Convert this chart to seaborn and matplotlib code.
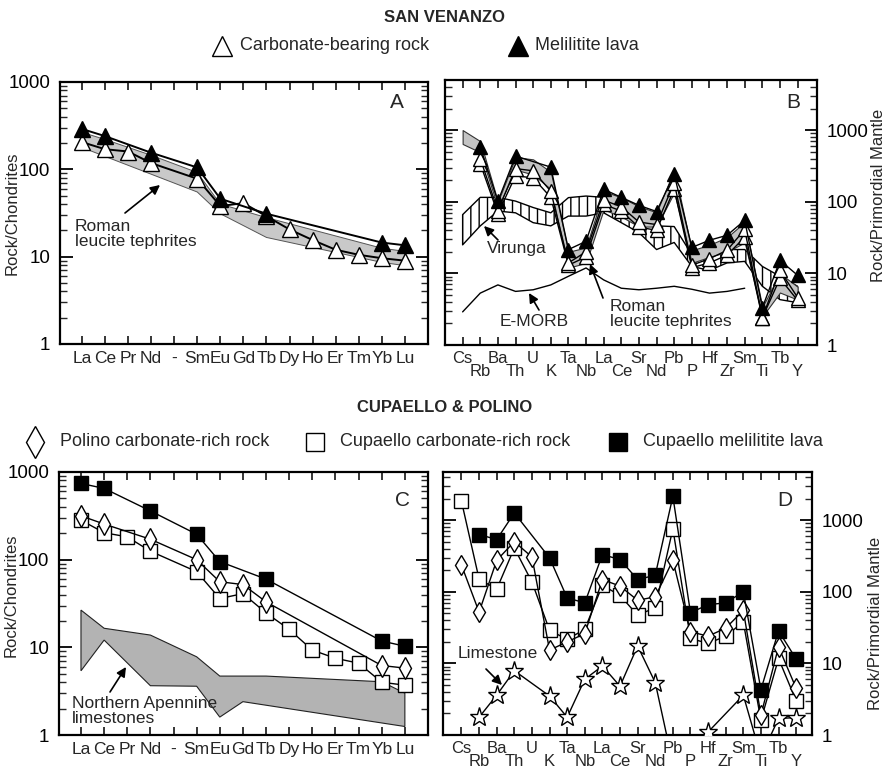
import numpy as np
import pandas as pd
import matplotlib
matplotlib.use("Agg")
import matplotlib.pyplot as plt
import seaborn as sns
from matplotlib.ticker import FixedLocator, NullFormatter, FixedFormatter

sns.set_theme(style="ticks")
plt.rcParams["font.family"] = ["Liberation Sans", "DejaVu Sans"]
plt.rcParams["hatch.linewidth"] = 1.0

# ---------------------------------------------------------------- categories
REE = ["La", "Ce", "Pr", "Nd", "-", "Sm", "Eu", "Gd", "Tb", "Dy", "Ho",
       "Er", "Tm", "Yb", "Lu"]
SPIDER = ["Cs", "Rb", "Ba", "Th", "U", "K", "Ta", "Nb", "La", "Ce", "Sr",
          "Nd", "Pb", "P", "Hf", "Zr", "Sm", "Ti", "Tb", "Y"]

# ---------------------------------------------------------------- San Venanzo, REE / chondrite
sv_lava_ree_el = ["La", "Ce", "Nd", "Sm", "Eu", "Tb", "Yb", "Lu"]
sv_lava_ree = [290, 240, 155, 105, 46, 31, 14.5, 13.5]
sv_carb_ree_el = ["La", "Ce", "Pr", "Nd", "Sm", "Eu", "Gd", "Tb", "Dy", "Ho",
                  "Er", "Tm", "Yb", "Lu"]
sv_carb_ree = [205, 170, 160, 118, 78, 38, 41, 29, 20.5, 15.5, 12, 10.5, 9.6, 9.0]
roman_ree_upper_el = ["La", "Ce", "Nd", "Sm", "Eu", "Tb", "Yb", "Lu"]
roman_ree_upper = [265, 220, 145, 92, 40, 28, 12.5, 11.5]
roman_ree_lower_el = ["La", "Sm", "Eu", "Tb", "Yb", "Lu"]
roman_ree_lower = [178, 55, 31, 16.6, 8.6, 7.9]

# ---------------------------------------------------------------- San Venanzo, primordial mantle
sv_lava_pm_el = ["Rb", "Ba", "Th", "K", "Ta", "Nb", "La", "Ce", "Sr", "Nd", "Pb",
                 "P", "Hf", "Zr", "Sm", "Ti", "Tb", "Y"]
sv_lava_pm = [580, 101, 434, 304, 21.5, 28, 149, 115, 89, 73, 242,
              23, 29, 34, 55, 3.3, 15.2, 9.4]
sv_carb_pm_el = ["Rb", "Ba", "Th", "U", "K", "Ta", "Nb", "La", "Ce", "Sr", "Nd",
                 "Pb", "P", "Hf", "Zr", "Sm", "Ti", "Tb", "Y"]
sv_carb_pm_1 = [400, 75, 290, 270, 140, 14, 20, 105, 85, 52, 48,
                185, 13, 16, 21, 41, 2.4, 11, 4.6]
sv_carb_pm_2 = [340, 68, 230, 215, 115, 13, 17, 92, 74, 44, 40,
                150, 12, 14, 18, 32, 2.4, 8.5, 4.2]
roman_pm_upper = [1000, 700, 100, 420, 390, 260, 20, 23, 140, 115, 86, 71,
                  280, 21, 25, 32, 52, 3.4, 10, 6.5]
roman_pm_lower = [640, 490, 83, 280, 240, 150, 12, 14, 78, 62, 45, 45,
                  135, 14, 17, 20, 27, 2.5, 5.4, 4.3]
virunga_upper = [66, 115, 115, 102, 83, 70, 114, 120, 115, 87, 63, 46,
                 45, 18.3, 18.3, 21.5, 21.5, 12.5, 9.1, 6.6]
virunga_lower = [25, 46, 74, 70, 51, 46, 63, 63, 70, 51, 37, 21.5,
                 27, 12.5, 11, 14, 14.7, 6.6, 4.3, 3.9]
emorb_el = ["Cs", "Rb", "Ba", "Th", "U", "K", "Ta", "Nb", "La", "Ce", "Sr",
            "Nd", "Pb", "P", "Hf", "Zr", "Sm"]
emorb = [2.9, 5.3, 6.9, 5.6, 5.9, 6.9, 9.1, 11.9, 8.1, 6.2, 5.9,
         6.2, 6.6, 6.0, 5.3, 5.6, 6.2]

# ---------------------------------------------------------------- Cupaello & Polino, REE / chondrite
cup_lava_ree_el = ["La", "Ce", "Nd", "Sm", "Eu", "Tb", "Yb", "Lu"]
cup_lava_ree = [740, 650, 360, 195, 95, 60, 11.8, 10.3]
pol_carb_ree_el = ["La", "Ce", "Nd", "Sm", "Eu", "Gd", "Tb", "Yb", "Lu"]
pol_carb_ree = [316, 255, 171, 100, 56, 52, 33, 6.2, 5.8]
cup_carb_ree_el = ["La", "Ce", "Pr", "Nd", "Sm", "Eu", "Gd", "Tb", "Dy", "Ho",
                   "Er", "Tm", "Yb", "Lu"]
cup_carb_ree = [282, 203, 182, 125, 73, 36, 41, 24.7, 16, 9.3, 7.5, 6.6, 4.0, 3.7]
napp_upper_el = ["La", "Ce", "Nd", "Sm", "Eu", "Tb", "Yb", "Lu"]
napp_upper = [26.6, 16.5, 13.8, 7.8, 4.7, 4.7, 4.05, 3.0]
napp_lower_el = ["La", "Ce", "Nd", "Sm", "Eu", "Gd", "Lu"]
napp_lower = [5.4, 12.1, 3.65, 3.6, 1.6, 2.4, 1.25]

# ---------------------------------------------------------------- Cupaello & Polino, primordial mantle
cup_lava_pm_el = ["Rb", "Ba", "Th", "K", "Ta", "Nb", "La", "Ce", "Sr", "Nd", "Pb",
                  "P", "Hf", "Zr", "Sm", "Ti", "Tb", "Y"]
cup_lava_pm = [630, 536, 1260, 297, 82, 70, 330, 282, 148, 170, 2150,
               51, 66, 70, 100, 4.3, 28.5, 11.5]
cup_carb_pm = [1830, 150, 109, 408, 137, 29, 21.6, 30, 123, 89, 47, 60,
               760, 22.3, 19, 24, 38, 1.6, 11.7, 3.0]
pol_carb_pm = [235, 52, 275, 500, 306, 15.3, 20, 26, 148, 120, 76, 85,
               275, 27.6, 24, 31, 55, 1.9, 17, 4.5]
limestone_pm_el = ["Rb", "Ba", "Th", "K", "Ta", "Nb", "La", "Ce", "Sr", "Nd",
                   "Pb", "Hf", "Sm", "Ti", "Tb", "Y"]
limestone_pm = [1.77, 3.6, 7.9, 3.5, 1.77, 6.0, 9.2, 4.8, 17.5, 5.4,
                0.4, 1.1, 3.6, 0.5, 1.7, 1.75]

W, H = 889, 775
fig = plt.figure(figsize=(W / 100, H / 100), dpi=100)


def px_axes(left, top, right, bottom):
    return fig.add_axes([left / W, 1 - bottom / H, (right - left) / W, (bottom - top) / H])


def draw_series(ax, order, elements, values, marker, face, ms, lw=1.0, z=5):
    df = pd.DataFrame({"pos": [order.index(e) for e in elements], "value": values})
    sns.lineplot(data=df, x="pos", y="value", ax=ax, color="black", linewidth=lw,
                 marker=marker, markersize=ms, markerfacecolor=face,
                 markeredgecolor="black", markeredgewidth=1.0, legend=False,
                 errorbar=None, zorder=z)


def draw_band(ax, order, up_el, up_val, lo_el, lo_val, **kw):
    xs = [order.index(e) for e in up_el] + [order.index(e) for e in lo_el][::-1]
    ys = list(up_val) + list(lo_val)[::-1]
    ax.fill(xs, ys, **kw)


def style_axes(ax, cats, xlim, top, label_side, staggered):
    ax.set_yscale("log")
    ax.set_ylim(1, top)
    ax.set_xlim(*xlim)
    ax.set_xlabel("")
    ax.set_ylabel("")
    for s in ax.spines.values():
        s.set_visible(True)
        s.set_linewidth(1.6)
        s.set_color("black")
    majors = [1, 10, 100, 1000]
    minors = [m * 10 ** k for k in range(4) for m in range(2, 10) if m * 10 ** k < top]
    ax.yaxis.set_major_locator(FixedLocator(majors))
    ax.yaxis.set_major_formatter(FixedFormatter([str(v) for v in majors]))
    ax.yaxis.set_minor_locator(FixedLocator(minors))
    ax.yaxis.set_minor_formatter(NullFormatter())
    left_lab = label_side == "left"
    ax.tick_params(axis="y", which="major", direction="in", length=9, width=1.3,
                   left=True, right=True, labelleft=left_lab, labelright=not left_lab,
                   labelsize=13.5, pad=7, colors="black")
    ax.tick_params(axis="y", which="minor", direction="in", length=5, width=1.0,
                   left=True, right=True)
    if staggered:
        even = list(range(0, len(cats), 2))
        odd = list(range(1, len(cats), 2))
        ax.set_xticks(even, [cats[i] for i in even])
        ax.set_xticks(odd, [cats[i] for i in odd], minor=True)
        ax.tick_params(axis="x", which="major", direction="in", length=6, width=1.3,
                       top=True, bottom=True, labelsize=12, pad=4)
        ax.tick_params(axis="x", which="minor", direction="in", length=6, width=1.3,
                       top=True, bottom=True, labelsize=12, pad=14)
    else:
        ax.set_xticks(range(len(cats)), cats)
        ax.xaxis.set_minor_locator(FixedLocator([]))
        ax.tick_params(axis="x", which="major", direction="in", length=6, width=1.3,
                       top=True, bottom=True, labelsize=12.5, pad=5)


# ---------------------------------------------------------------- panel A
axA = px_axes(60, 82, 428, 344)
axA.set_yscale("log")
draw_band(axA, REE, roman_ree_upper_el, roman_ree_upper, roman_ree_lower_el,
          roman_ree_lower, facecolor="#c9c9c9", edgecolor="#555555", lw=0.7, zorder=1)
draw_series(axA, REE, sv_carb_ree_el, sv_carb_ree, "^", "white", 11, lw=1.4)
draw_series(axA, REE, sv_lava_ree_el, sv_lava_ree, "^", "black", 11, lw=1.4, z=6)
style_axes(axA, REE, (-0.95, 15.0), 1000, "left", False)
axA.set_ylabel("Rock/Chondrites", fontsize=12)
axA.yaxis.label.set_va("center")
axA.yaxis.set_label_coords(-0.13, 0.5)

# ---------------------------------------------------------------- panel B
axB = px_axes(445, 80, 817, 345)
axB.set_yscale("log")
axB.fill_between(range(len(SPIDER)), virunga_lower, virunga_upper, facecolor="white",
                 edgecolor="black", hatch="||", lw=1.0, zorder=1)
axB.fill_between(range(len(SPIDER)), roman_pm_lower, roman_pm_upper, facecolor="#c4c4c4",
                 edgecolor="#333333", lw=0.8, zorder=2)
draw_series(axB, SPIDER, emorb_el, emorb, None, "none", 0, lw=1.0, z=3)
draw_series(axB, SPIDER, sv_carb_pm_el, sv_carb_pm_2, "^", "white", 10, lw=1.0, z=4)
draw_series(axB, SPIDER, sv_carb_pm_el, sv_carb_pm_1, "^", "white", 10, lw=1.0, z=4)
draw_series(axB, SPIDER, sv_lava_pm_el, sv_lava_pm, "^", "black", 10, lw=1.0, z=6)
style_axes(axB, SPIDER, (-1.0, 20.1), 5000, "right", True)
axB.set_ylabel("Rock/Primordial Mantle", fontsize=12)
axB.yaxis.set_label_position("right")
axB.yaxis.label.set_rotation(90)
axB.yaxis.label.set_va("center")
axB.yaxis.set_label_coords(1.164, 0.566)

# ---------------------------------------------------------------- panel C
axC = px_axes(59, 472, 428, 735)
axC.set_yscale("log")
draw_band(axC, REE, napp_upper_el, napp_upper, napp_lower_el, napp_lower,
          facecolor="#b3b3b3", edgecolor="#222222", lw=0.8, zorder=1)
draw_series(axC, REE, cup_carb_ree_el, cup_carb_ree, "s", "white", 10)
draw_series(axC, REE, pol_carb_ree_el, pol_carb_ree, "d", "white", 11)
draw_series(axC, REE, cup_lava_ree_el, cup_lava_ree, "s", "black", 10, z=6)
style_axes(axC, REE, (-0.95, 15.0), 1000, "left", False)
axC.set_ylabel("Rock/Chondrites", fontsize=12)
axC.yaxis.label.set_va("center")
axC.yaxis.set_label_coords(-0.13, 0.532)

# ---------------------------------------------------------------- panel D
axD = px_axes(443, 472, 812, 735)
axD.set_yscale("log")
draw_series(axD, SPIDER, limestone_pm_el, limestone_pm, "*", "white", 14, z=3)
draw_series(axD, SPIDER, SPIDER, cup_carb_pm, "s", "white", 9.5, z=4)
draw_series(axD, SPIDER, SPIDER, pol_carb_pm, "d", "white", 10.5, z=5)
draw_series(axD, SPIDER, cup_lava_pm_el, cup_lava_pm, "s", "black", 9.5, z=6)
style_axes(axD, SPIDER, (-1.05, 19.9), 4700, "right", True)
axD.set_ylabel("Rock/Primordial Mantle", fontsize=12)
axD.yaxis.set_label_position("right")
axD.yaxis.label.set_rotation(90)
axD.yaxis.label.set_va("center")
axD.yaxis.set_label_coords(1.171, 0.426)

# ---------------------------------------------------------------- headings, keys and notes
ov = fig.add_axes([0, 0, 1, 1], zorder=10)
ov.set_xlim(0, W)
ov.set_ylim(H, 0)
ov.axis("off")
ov.patch.set_alpha(0)

narrow = ["Liberation Sans Narrow", "Liberation Sans", "DejaVu Sans"]
ov.text(445, 18, "SAN VENANZO", ha="center", va="center", fontsize=12,
        fontweight="bold", family=narrow)
ov.plot([222], [46], marker="^", ms=14, mfc="white", mec="black", mew=1.0)
ov.text(240, 46, "Carbonate-bearing rock", ha="left", va="center", fontsize=13, family=narrow)
ov.plot([518], [46], marker="^", ms=14, mfc="black", mec="black", mew=1.0)
ov.text(535, 46, "Melilitite lava", ha="left", va="center", fontsize=13, family=narrow)

ov.text(445, 408, "CUPAELLO & POLINO", ha="center", va="center", fontsize=12,
        fontweight="bold", family=narrow)
ov.plot([35], [442], marker="d", ms=16, mfc="white", mec="black", mew=1.0)
ov.text(60, 442, "Polino carbonate-rich rock", ha="left", va="center", fontsize=13)
ov.plot([315], [442], marker="s", ms=13, mfc="white", mec="black", mew=1.0)
ov.text(340, 442, "Cupaello carbonate-rich rock", ha="left", va="center", fontsize=13)
ov.plot([618], [442], marker="s", ms=13, mfc="black", mec="black", mew=1.0)
ov.text(643, 442, "Cupaello melilitite lava", ha="left", va="center", fontsize=13)

arrow = dict(arrowstyle="-|>", color="black", lw=1.2, mutation_scale=14,
             shrinkA=0, shrinkB=0)
for letter, (x, y) in {"A": (397, 103), "B": (793, 102), "C": (402, 500),
                       "D": (785, 501)}.items():
    ov.text(x, y, letter, ha="center", va="center", fontsize=15)

ov.text(75, 234, "Roman\nleucite tephrites", ha="left", va="center", fontsize=12.5,
        linespacing=1.05)
ov.annotate("", xy=(160, 185), xytext=(125, 213), arrowprops=arrow)

ov.text(487, 249, "Virunga", ha="left", va="center", fontsize=12.5)
ov.annotate("", xy=(484, 226), xytext=(498, 240), arrowprops=arrow)
ov.text(500, 322, "E-MORB", ha="left", va="center", fontsize=12.5)
ov.annotate("", xy=(529, 293), xytext=(539, 310), arrowprops=arrow)
ov.text(610, 314, "Roman\nleucite tephrites", ha="left", va="center", fontsize=12.5,
        linespacing=1.05)
ov.annotate("", xy=(590, 264), xytext=(603, 298), arrowprops=arrow)

ov.text(72, 711, "Northern Apennine\nlimestones", ha="left", va="center", fontsize=12.5,
        linespacing=1.0)
ov.annotate("", xy=(126, 667), xytext=(110, 692), arrowprops=arrow)
ov.text(458, 653, "Limestone", ha="left", va="center", fontsize=12.5)
ov.annotate("", xy=(502, 685), xytext=(486, 669), arrowprops=arrow)

fig.savefig("out.png", dpi=100)
